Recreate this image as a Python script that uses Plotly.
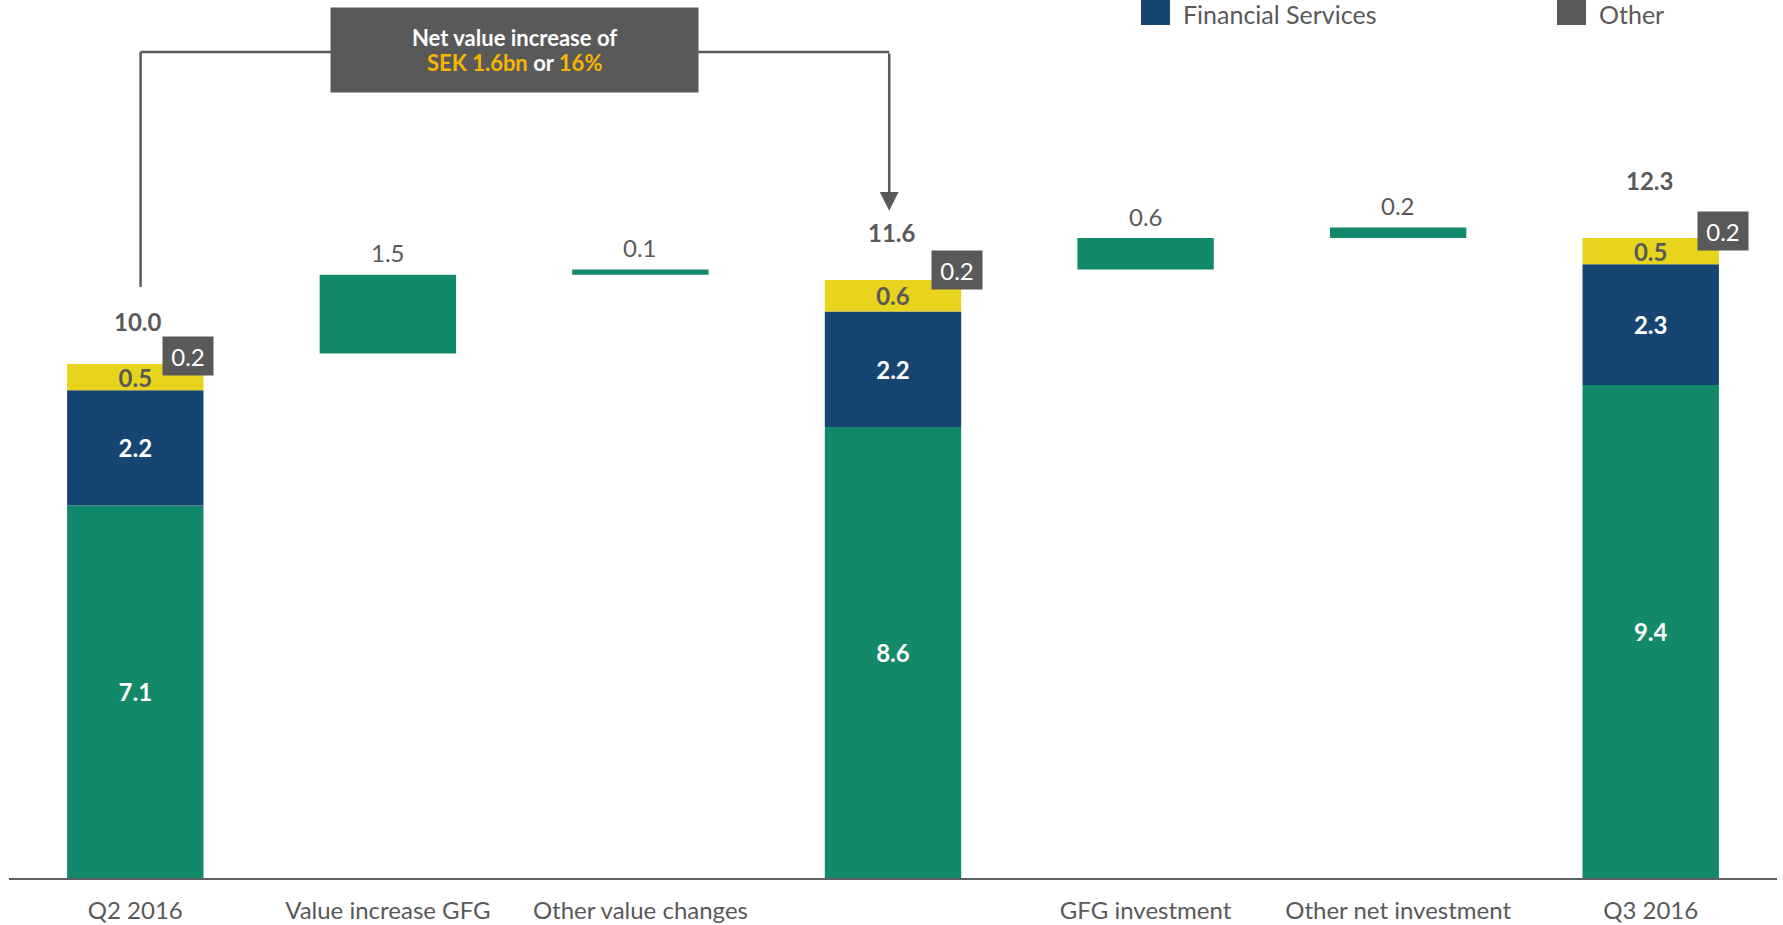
import plotly.graph_objects as go

# ---------------- data ----------------
tick_labels = ["Q2 2016", "Value increase GFG", "Other value changes", "",
               "GFG investment", "Other net investment", "Q3 2016"]
stack_x = [0, 3, 6]
seg_green = [7.1, 8.6, 9.4]
seg_blue = [2.2, 2.2, 2.3]
seg_yellow = [0.5, 0.6, 0.5]
seg_other = [0.2, 0.2, 0.2]
totals = [10.0, 11.6, 12.3]
step_x = [1, 2, 4, 5]
step_values = [1.5, 0.1, 0.6, 0.2]
legend_names = ["Financial Services", "Other"]
box_line1 = "Net value increase of"
box_amount = "SEK 1.6bn"
box_pct = "16%"

# ---------------- style ----------------
GREEN = "#12896A"
BLUE = "#174572"
YELLOW = "#E8D31D"
GREY = "#595959"
GOLD = "#F7B500"
FONT = "Lato"
W = 0.54

# bases for floating steps: start from totals of the preceding stacked bar
step_bases = []
b = totals[0]
for i, v in enumerate(step_values):
    if i == 2:
        b = totals[1]
    step_bases.append(b)
    b = b + v

blue_base = seg_green
yellow_base = [g + bl for g, bl in zip(seg_green, seg_blue)]
stack_top = [yb + y for yb, y in zip(yellow_base, seg_yellow)]

fig = go.Figure()

def seg_trace(vals, base, color, textcolor):
    return go.Bar(x=stack_x, y=vals, base=base, width=W, marker=dict(color=color, line=dict(width=0)),
                  texttemplate="<b>%{y:.1f}</b>", textposition="inside", insidetextanchor="middle",
                  constraintext="none", textangle=0,
                  textfont=dict(family=FONT, size=24, color=textcolor), showlegend=False, hoverinfo="skip")

fig.add_trace(seg_trace(seg_green, [0] * 3, GREEN, "white"))
fig.add_trace(seg_trace(seg_blue, blue_base, BLUE, "white"))
fig.add_trace(seg_trace(seg_yellow, yellow_base, YELLOW, GREY))

fig.add_trace(go.Bar(x=step_x, y=step_values, base=step_bases, width=W,
                     marker=dict(color=GREEN, line=dict(width=0)), showlegend=False, hoverinfo="skip"))

annotations = []
# floating step labels
for x, v, bs in zip(step_x, step_values, step_bases):
    annotations.append(dict(x=x, y=bs + v, text=f"{v:.1f}", showarrow=False, yanchor="middle",
                            yshift=22, font=dict(family=FONT, size=24, color=GREY)))
# totals and "Other" boxes
tot_shift = [42, 48, 58]
tot_xshift = [3, -1, -1]
oth_xshift = [53, 64, 72]
oth_yshift = [8, 10, 7]
for i, x in enumerate(stack_x):
    annotations.append(dict(x=x, y=stack_top[i], text=f"<b>{totals[i]:.1f}</b>", showarrow=False,
                            yanchor="middle", yshift=tot_shift[i], xshift=tot_xshift[i],
                            font=dict(family=FONT, size=24, color=GREY)))
    annotations.append(dict(x=x, y=stack_top[i], text=f"{seg_other[i]:.1f}", showarrow=False,
                            yanchor="middle", xanchor="center", yshift=oth_yshift[i], xshift=oth_xshift[i],
                            width=50, height=38, borderpad=0, bgcolor=GREY,
                            font=dict(family=FONT, size=24, color="white")))

# bracket
BR_TOP = 15.75
BR_LEFT_X = 0.021
BR_RIGHT_X = 2.985
left_bottom = totals[0] + 1.27
arrow_tip = totals[1] + 1.12
shapes = [
    dict(type="line", xref="x", yref="y", x0=BR_LEFT_X, x1=BR_LEFT_X, y0=left_bottom, y1=BR_TOP,
         line=dict(color=GREY, width=2.5)),
    dict(type="line", xref="x", yref="y", x0=BR_LEFT_X, x1=BR_RIGHT_X, y0=BR_TOP, y1=BR_TOP,
         line=dict(color=GREY, width=2.5)),
]
annotations.append(dict(x=BR_RIGHT_X, y=arrow_tip, ax=BR_RIGHT_X, ay=BR_TOP, axref="x", ayref="y",
                        xref="x", yref="y", text="", showarrow=True, arrowhead=2, arrowsize=1.5,
                        arrowwidth=2.5, arrowcolor=GREY, standoff=0))
# callout box (background + two text lines)
annotations.append(dict(x=1.5, y=BR_TOP, xref="x", yref="y", showarrow=False, text="",
                        yshift=2, width=367, height=84, borderpad=0, bgcolor=GREY))
annotations.append(dict(x=1.5, y=BR_TOP, xref="x", yref="y", showarrow=False, yanchor="middle",
                        text=f"<b>{box_line1}</b>", yshift=14,
                        font=dict(family=FONT, size=22, color="white")))
annotations.append(dict(x=1.5, y=BR_TOP, xref="x", yref="y", showarrow=False, yanchor="middle",
                        text=(f"<b><span style='color:{GOLD}'>{box_amount}</span>"
                              f" or <span style='color:{GOLD}'>{box_pct}</span></b>"), yshift=-11,
                        font=dict(family=FONT, size=22, color="white")))

# legend (drawn manually)
leg_sq_x = [1141, 1557]
leg_colors = [BLUE, GREY]
for name, px, col in zip(legend_names, leg_sq_x, leg_colors):
    shapes.append(dict(type="rect", xref="paper", yref="paper",
                       x0=(px - 9) / 1768, x1=(px + 29 - 9) / 1768, y0=1 - 25 / 878, y1=1,
                       fillcolor=col, line=dict(width=0)))
    annotations.append(dict(xref="paper", yref="paper", x=(px + 40 - 9) / 1768, y=1 - 14 / 878,
                            xanchor="left", yanchor="middle", showarrow=False, text=name,
                            font=dict(family=FONT, size=25, color=GREY)))

fig.update_layout(
    width=1783, height=925,
    margin=dict(l=9, r=6, t=0, b=47),
    barmode="overlay",
    plot_bgcolor="white", paper_bgcolor="white",
    showlegend=False,
    shapes=shapes,
    annotations=annotations,
    font=dict(family=FONT, color=GREY),
)
fig.update_xaxes(range=[-0.5, 6.5], tickmode="array", tickvals=list(range(7)), ticktext=tick_labels,
                 showgrid=False, zeroline=False, showline=True, linecolor="#5B5F66", linewidth=2,
                 ticks="", ticklabelstandoff=10, automargin=False,
                 tickfont=dict(family=FONT, size=24, color=GREY))
fig.update_yaxes(range=[0, 878 / 52.45], showgrid=False, zeroline=False, showticklabels=False,
                 showline=False, automargin=False)

fig.write_html("out.html", config={"displayModeBar": False},
               post_script="document.body.style.margin='0';document.body.style.overflow='hidden';")
